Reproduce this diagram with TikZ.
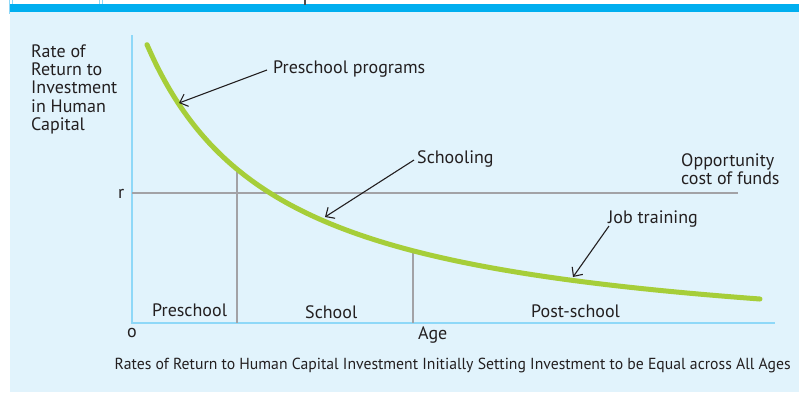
\documentclass[tikz,border=0pt]{standalone}
\usepackage{fontspec}
\setmainfont{PT Sans}
\usetikzlibrary{arrows.meta}
\definecolor{band}{HTML}{00AEEF}
\definecolor{panel}{HTML}{E1F3FC}
\definecolor{axisblue}{HTML}{8ED8F8}
\definecolor{guide}{HTML}{A2A2A6}
\definecolor{curvegreen}{HTML}{A6CE39}
\definecolor{ink}{HTML}{231F20}
\begin{document}
\begin{tikzpicture}[x=1pt,y=-1pt,
  lbl/.style={font=\fontsize{18}{18.4}\selectfont, text=ink, inner sep=0pt, anchor=base west},
  callout/.style={draw=ink, line width=1.1pt, -{Straight Barb[length=7pt,width=13pt]}},
  axisline/.style={draw=axisblue, line width=2.5pt},
  guideline/.style={draw=guide, line width=2.5pt},
  headerline/.style={draw=axisblue, line width=0.8pt}]
\useasboundingbox (0,0) rectangle (807,392);
% panel and band
\fill[panel] (10,12) rectangle (799,392);
\fill[band] (10,4) rectangle (799,12);
\draw[headerline] (12.5,0) -- (12.5,4) (99,0) -- (99,4) (102,0) -- (102,4);
\draw[headerline] (9.5,0) -- (9.5,14);
\draw[ink!80, line width=1.5pt] (305,0) -- (305,4.5);
% axes
\coordinate (yaxtop) at (132,35);
\coordinate (origin) at (132,323);
\coordinate (xaxend) at (775,323);
\draw[axisline] (yaxtop) -- (origin) -- (xaxend);
% guide lines
\coordinate (rstart) at (132,193);
\coordinate (rend) at (738,193);
\draw[guideline] (rstart) -- (rend);
\coordinate (v1top) at (237,171);
\coordinate (v1bot) at (237,323);
\coordinate (v2top) at (413,252);
\coordinate (v2bot) at (413,323);
\draw[guideline] (v1top) -- (v1bot);
\draw[guideline] (v2top) -- (v2bot);
% curve
\draw[curvegreen, line width=5pt, line cap=round]
  plot[domain=147:760, samples=90, smooth] (\x, {354.6-415.29/((\x-13)/100)});
% labels
\node[lbl] (ylabel) at (31,57) {\begin{tabular}[t]{@{}l@{}}Rate of\\Return to\\Investment\\in Human\\Capital\end{tabular}};
\node[lbl] (rlab) at (118,198) {r};
\node[lbl] (olab) at (127,337) {o};
\node[lbl] (agelab) at (418,339) {Age};
\node[lbl] (pre) at (152,316) {Preschool};
\node[lbl] (school) at (305,318) {School};
\node[lbl] (post) at (531,317) {Post-school};
\node[lbl] (ppl) at (273,73) {Preschool programs};
\node[lbl] (schl) at (417,163) {Schooling};
\node[lbl] (jobl) at (608,223) {Job training};
\node[lbl, font=\fontsize{18}{17}\selectfont] (opp) at (681,166.7) {\begin{tabular}[t]{@{}l@{}}Opportunity\\cost of funds\end{tabular}};
\node[lbl, font=\fontsize{16}{18}\selectfont] (caption) at (114.5,369.5) {\resizebox{676pt}{\height}{Rates of Return to Human Capital Investment Initially Setting Investment to be Equal across All Ages}};
% callouts
\coordinate (ppstart) at (267,70);
\coordinate (pptip) at (179,103);
\coordinate (schstart) at (414,160);
\coordinate (schtip) at (325,217);
\coordinate (jobstart) at (609,226);
\coordinate (jobtip) at (573,277);
\draw[callout] (ppstart) -- (pptip);
\draw[callout] (schstart) -- (schtip);
\draw[callout] (jobstart) -- (jobtip);
\end{tikzpicture}
\end{document}
